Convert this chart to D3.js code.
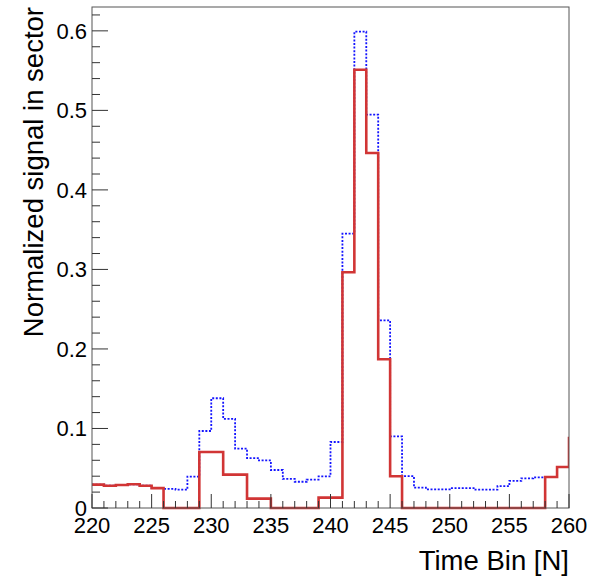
<!DOCTYPE html>
<html lang="en">
<head>
<meta charset="UTF-8"/>
<title>Normalized signal in sector</title>
<script src="https://cdn.jsdelivr.net/npm/d3@7"></script>
<style>
    html, body {
        margin: 0;
        background: white;
    }
    text {
        font-family: "Liberation Sans", Arial, sans-serif;
        fill: black;
    }
</style>
</head>
<body>
<div id="container"></div>
<script>
    // time bins (lower edge), the last one lies just outside the frame
    const bins = d3.range(220, 261)

    const signalRed = [0.0294, 0.028, 0.029, 0.0298, 0.028, 0.025, 0, 0, 0, 0.0704,
        0.0704, 0.042, 0.042, 0.0118, 0.0118, 0, 0, 0, 0, 0.013,
        0.013, 0.2965, 0.551, 0.4465, 0.187, 0.040, 0, 0, 0, 0,
        0, 0, 0, 0, 0, 0, 0, 0, 0.039, 0.0515,
        0.088]

    const signalBlue = [0.0294, 0.028, 0.029, 0.0298, 0.028, 0.025, 0.024, 0.023, 0.0394, 0.0968,
        0.138, 0.112, 0.0746, 0.0628, 0.0598, 0.0478, 0.0365, 0.033, 0.0357, 0.0398,
        0.083, 0.345, 0.599, 0.4946, 0.236, 0.090, 0.040, 0.0256, 0.0235, 0.0235,
        0.025, 0.025, 0.023, 0.023, 0.0276, 0.034, 0.0373, 0.0386, 0.039, 0.0515,
        0.088]

    const xMajorTicks = [220, 225, 230, 235, 240, 245, 250, 255, 260]
    const yMajorTicks = [0, 0.1, 0.2, 0.3, 0.4, 0.5, 0.6]

    const width = 590, height = 578
    const margin = {left: 92, right: 21, top: 7, bottom: 70}

    const svg = d3.select("#container").append("svg")
        .attr("width", width)
        .attr("height", height)

    const x = d3.scaleLinear().domain([220, 260]).range([margin.left, width - margin.right])
    const y = d3.scaleLinear().domain([0, 0.63]).range([height - margin.bottom, margin.top])

    svg.append("clipPath").attr("id", "frame")
        .append("rect")
        .attr("x", x(220)).attr("y", y(0.63) - 2)
        .attr("width", x(260) - x(220)).attr("height", y(0) - y(0.63) + 4)

    // ROOT like histogram outline: horizontal tops joined by vertical steps
    function stepPath(values) {
        let pts = []
        values.forEach((v, i) => {
            pts.push([x(bins[i]), y(v)])
            pts.push([x(bins[i] + 1), y(v)])
        })
        return d3.line()(pts)
    }

    const g = svg.append("g").attr("clip-path", "url(#frame)")

    g.append("path")
        .attr("d", stepPath(signalBlue))
        .attr("fill", "none")
        .attr("stroke", "#1414ff")
        .attr("stroke-width", 1.8)
        .attr("stroke-dasharray", "2,1.6")

    g.append("path")
        .attr("d", stepPath(signalRed))
        .attr("fill", "none")
        .attr("stroke", "#d13535")
        .attr("stroke-width", 2.6)

    // frame
    svg.append("rect")
        .attr("x", x(220)).attr("y", y(0.63))
        .attr("width", x(260) - x(220)).attr("height", y(0) - y(0.63))
        .attr("fill", "none")
        .attr("stroke", "#555")
        .attr("stroke-width", 1)

    // x axis, ticks point up into the frame
    const xAxis = svg.append("g").attr("transform", `translate(0,${y(0)})`)
    xAxis.selectAll("line.minor")
        .data(d3.range(220, 261))
        .join("line")
        .attr("x1", d => x(d)).attr("x2", d => x(d))
        .attr("y1", 0)
        .attr("y2", d => xMajorTicks.includes(d) ? -14 : -7)
        .attr("stroke", "#333")
    xAxis.selectAll("text")
        .data(xMajorTicks)
        .join("text")
        .attr("x", d => x(d))
        .attr("y", 25)
        .attr("text-anchor", "middle")
        .attr("font-size", "22px")
        .text(d => d)

    // y axis
    const yAxis = svg.append("g").attr("transform", `translate(${x(220)},0)`)
    yAxis.selectAll("line")
        .data(d3.range(0, 32).map(i => i * 0.02))
        .join("line")
        .attr("x1", 0)
        .attr("x2", (d, i) => i % 5 === 0 ? 16 : 8)
        .attr("y1", d => y(d)).attr("y2", d => y(d))
        .attr("stroke", "#333")
    yAxis.selectAll("text")
        .data(yMajorTicks)
        .join("text")
        .attr("x", -5)
        .attr("y", d => y(d))
        .attr("dy", "0.36em")
        .attr("text-anchor", "end")
        .attr("font-size", "22px")
        .text(d => d === 0 ? "0" : d3.format(".1f")(d))

    // axis titles
    svg.append("text")
        .attr("x", x(260))
        .attr("y", 570)
        .attr("text-anchor", "end")
        .attr("font-size", "27.5px")
        .text("Time Bin [N]")

    svg.append("text")
        .attr("transform", `translate(43,${y(0.63)}) rotate(-90)`)
        .attr("text-anchor", "end")
        .attr("font-size", "27.5px")
        .text("Normalized signal in sector")
</script>
</body>
</html>
